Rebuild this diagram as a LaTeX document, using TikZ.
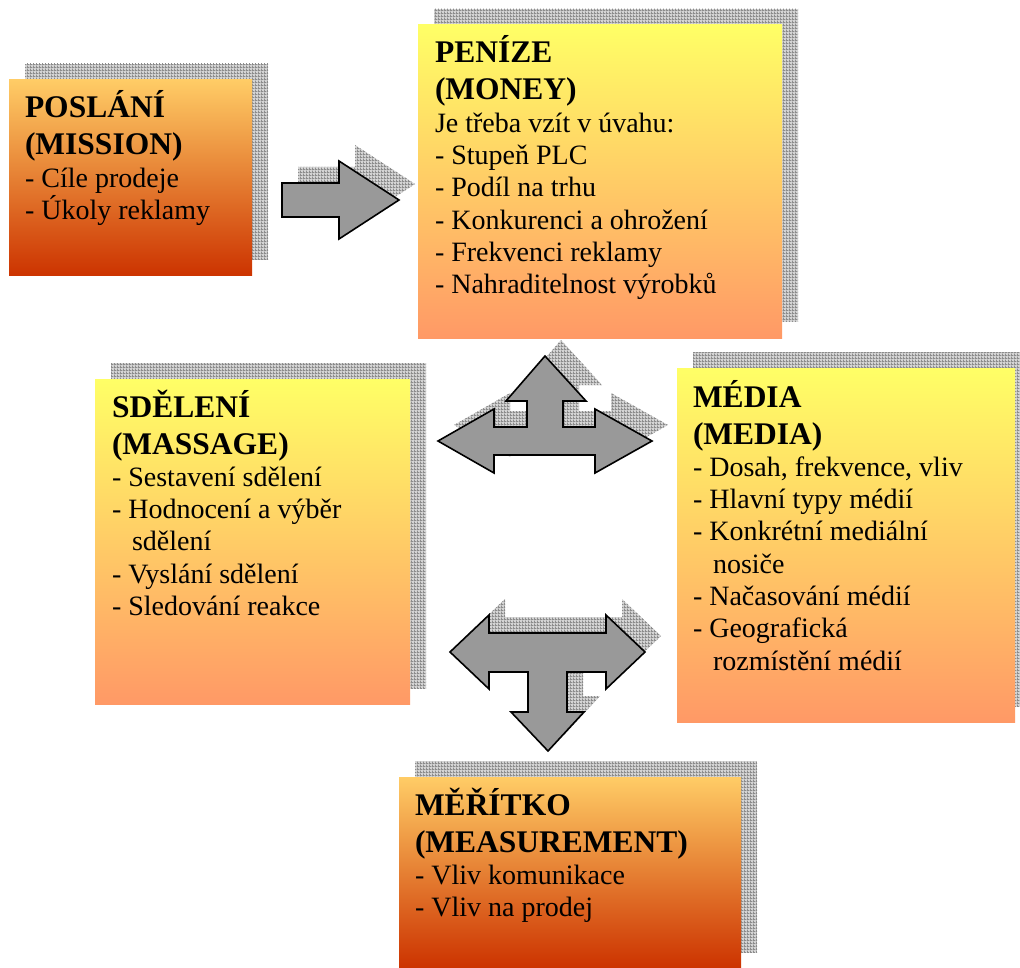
\documentclass[tikz,border=0pt]{standalone}
\usepackage{fontspec}
\setmainfont{Liberation Serif}
\usetikzlibrary{patterns,backgrounds}
\pgfdeclarepatternformonly{finegrid}{\pgfpointorigin}{\pgfpoint{3pt}{3pt}}{\pgfpoint{3pt}{3pt}}{%
  \pgfpathrectangle{\pgfpointorigin}{\pgfpoint{3pt}{1pt}}%
  \pgfpathrectangle{\pgfpointorigin}{\pgfpoint{1pt}{3pt}}%
  \pgfusepath{fill}}
\definecolor{lyel}{HTML}{FFFF66}
\definecolor{lsal}{HTML}{FF9966}
\definecolor{dyel}{HTML}{FFCC66}
\definecolor{dred}{HTML}{CC3300}
\definecolor{gridgray}{RGB}{140,140,140}
\definecolor{gridbase}{RGB}{212,212,212}
\definecolor{arrgray}{HTML}{999999}
\newcommand{\hdfont}{\fontsize{31.5}{37}\selectfont\bfseries}
\newcommand{\txfont}{\fontsize{28}{32.3}\selectfont\mdseries}
\begin{document}
\begin{tikzpicture}[x=1pt,y=-1pt,
  boxbase/.style={rectangle,inner sep=0pt,outer sep=0pt,anchor=north west},
  lightbox/.style={boxbase,top color=lyel,bottom color=lsal},
  darkbox/.style={boxbase,top color=dyel,bottom color=dred},
  shadowfill/.style={fill=gridbase,postaction={pattern=finegrid,pattern color=gridgray}},
  txt/.style={anchor=base west,inner sep=0pt,outer sep=0pt},
  blockarrow/.style={fill=arrgray,draw=black,line width=1.6pt,line join=miter},
  arrA/.style={insert path={(282,183) -- (339,183) -- (339,161) -- (399,200) -- (339,239) -- (339,217) -- (282,217) -- cycle}},
  arrB/.style={insert path={(438,441) -- (494,409) -- (494,427) -- (527,427) -- (527,401) -- (506,401) -- (545,356) -- (586,401) -- (563,401) -- (563,427) -- (595,427) -- (595,409) -- (652,441) -- (595,473) -- (595,455) -- (494,455) -- (494,473) -- cycle}},
  arrC/.style={insert path={(450,652) -- (489,615) -- (489,633) -- (606,633) -- (606,615) -- (645,652) -- (606,689) -- (606,672) -- (567,672) -- (567,712) -- (584,712) -- (548,751) -- (511,712) -- (528,712) -- (528,672) -- (489,672) -- (489,689) -- cycle}},
  shadowshift/.style={shift={(16,-16)}}
]
\useasboundingbox (0,0) rectangle (1020,968);

% boxes
\node[darkbox,minimum width=243pt,minimum height=196pt] (pos) at (9,80) {};
\node[lightbox,minimum width=364pt,minimum height=313pt] (pen) at (418,25) {};
\node[lightbox,minimum width=315pt,minimum height=325pt] (sde) at (95,379) {};
\node[lightbox,minimum width=338pt,minimum height=354pt] (med) at (677,368) {};
\node[darkbox,minimum width=342pt,minimum height=191pt] (mer) at (399,777) {};

% shadows
\begin{scope}[on background layer]
  \foreach \b in {pos,pen,sde,med,mer}{
    \path[shadowfill] ([shadowshift]\b.south west) rectangle ([shadowshift]\b.north east);
  }
  \path[shadowfill,shadowshift,arrA];
  \path[shadowfill,shadowshift,arrB];
  \path[shadowfill,shadowshift,arrC];
\end{scope}

% block arrows
\path[blockarrow,arrA];
\path[blockarrow,arrB];
\path[blockarrow,arrC];

% texts
\node[txt] (tpos) at (25,118) {\begin{minipage}[t]{230pt}\raggedright
\hdfont POSLÁNÍ\\(MISSION)\par
\txfont - Cíle prodeje\\- Úkoly reklamy\end{minipage}};

\node[txt] (tpen) at (435,63) {\begin{minipage}[t]{340pt}\raggedright
\hdfont PENÍZE\\(MONEY)\par
\txfont Je třeba vzít v úvahu:\\- Stupeň PLC\\- Podíl na trhu\\- Konkurenci a ohrožení\\- Frekvenci reklamy\\- Nahraditelnost výrobků\end{minipage}};

\node[txt] (tsde) at (112,417) {\begin{minipage}[t]{300pt}\raggedright
\hdfont SDĚLENÍ\\(MASSAGE)\par
\txfont - Sestavení sdělení\\- Hodnocení a výběr\\\hspace*{20pt}sdělení\\- Vyslání sdělení\\- Sledování reakce\end{minipage}};

\node[txt] (tmed) at (693,407) {\begin{minipage}[t]{320pt}\raggedright
\hdfont MÉDIA\\(MEDIA)\par
\txfont - Dosah, frekvence, vliv\\- Hlavní typy médií\\- Konkrétní mediální\\\hspace*{20pt}nosiče\\- Načasování médií\\- Geografická\\\hspace*{20pt}rozmístění médií\end{minipage}};

\node[txt] (tmer) at (415,815) {\begin{minipage}[t]{330pt}\raggedright
\hdfont MĚŘÍTKO\\(MEASUREMENT)\par
\txfont - Vliv komunikace\\- Vliv na prodej\end{minipage}};
\end{tikzpicture}
\end{document}
